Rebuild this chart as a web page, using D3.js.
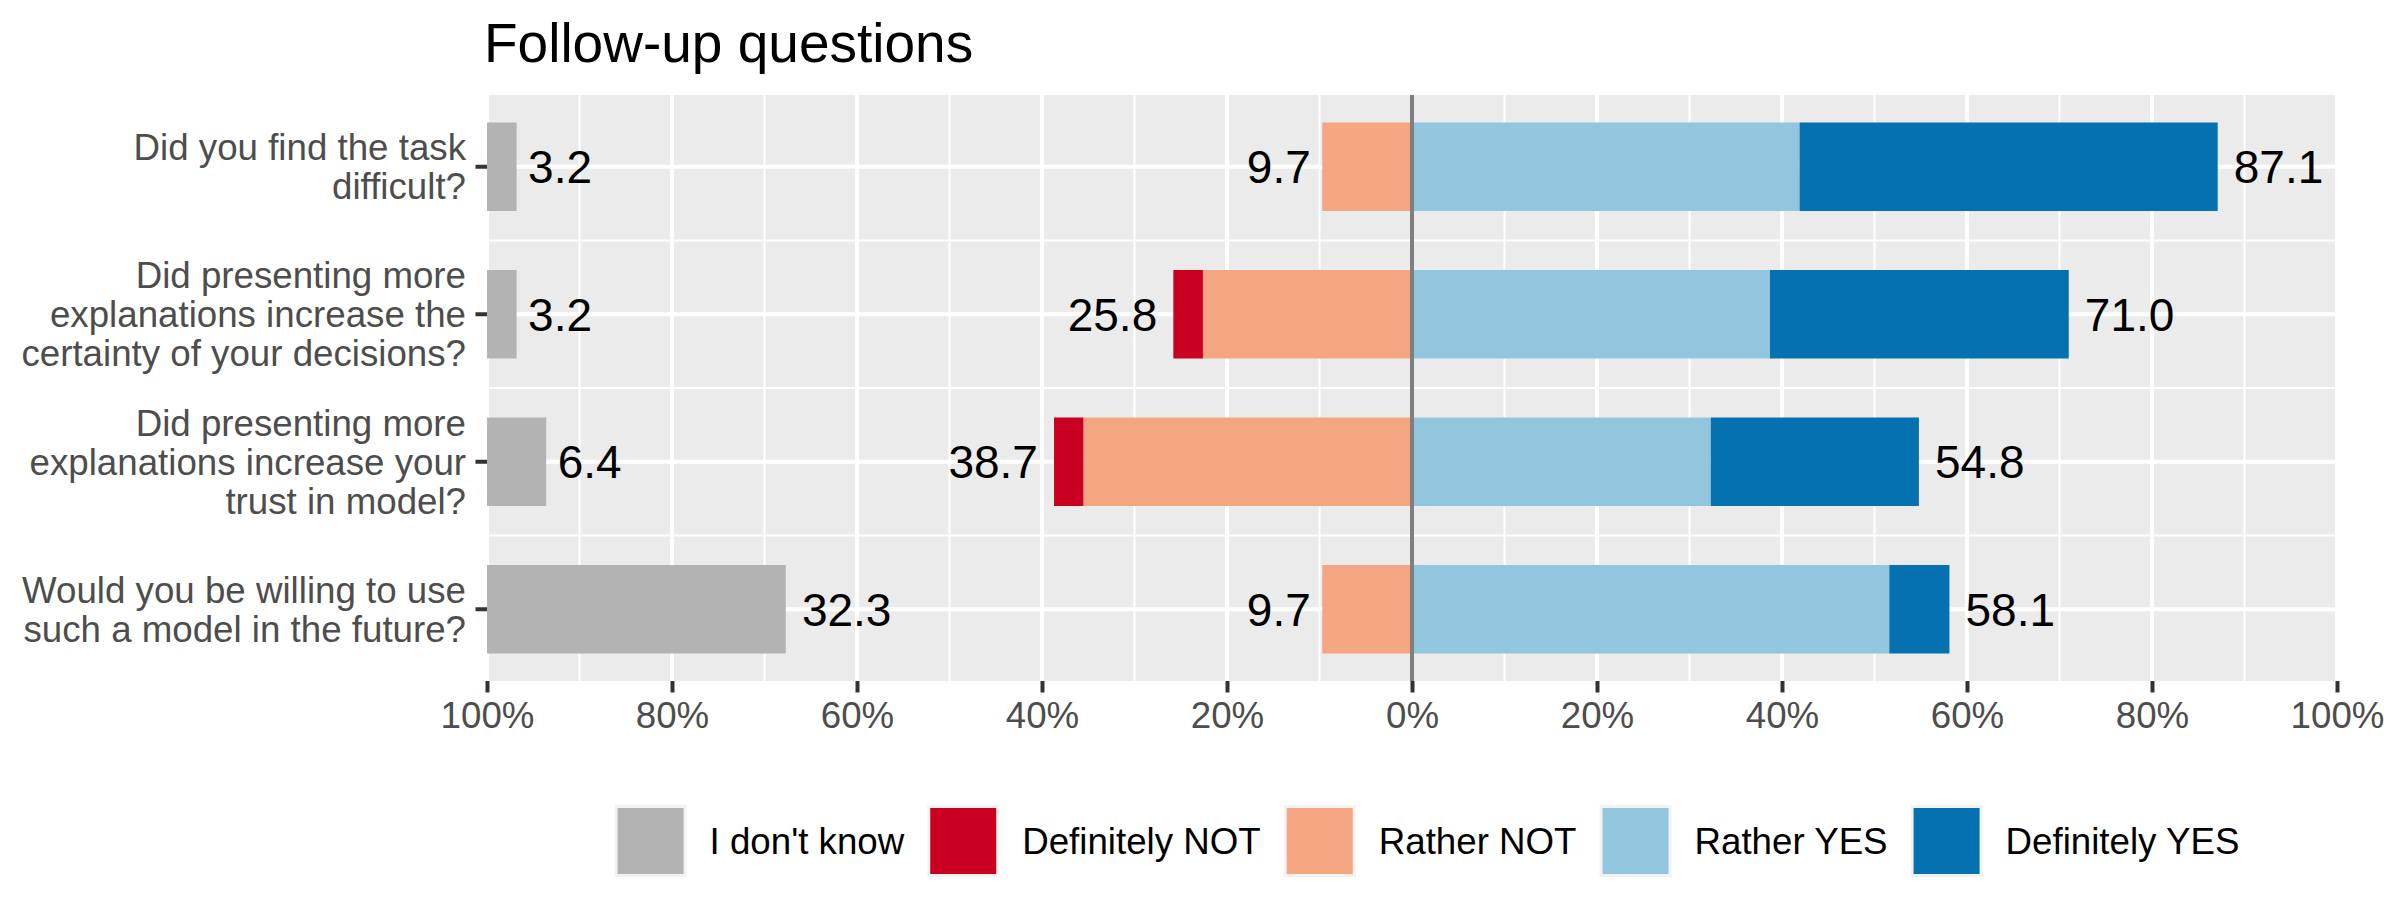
<!DOCTYPE html>
<html>
<head>
<meta charset="utf-8">
<script src="https://cdn.jsdelivr.net/npm/d3@7"></script>
<style>
  html, body { margin: 0; padding: 0; background: #ffffff; }
  svg { display: block; }
  text { font-family: "Liberation Sans", Arial, sans-serif; }
</style>
</head>
<body>
<svg id="chart" width="2400" height="900"></svg>
<script>
// ---- data ----
const title = "Follow-up questions";
const categories = [
  "Did you find the task\ndifficult?",
  "Did presenting more\nexplanations increase the\ncertainty of your decisions?",
  "Did presenting more\nexplanations increase your\ntrust in model?",
  "Would you be willing to use\nsuch a model in the future?"
];
const seriesNames = ["I don't know", "Definitely NOT", "Rather NOT", "Rather YES", "Definitely YES"];
const seriesColors = ["#B3B3B3", "#CA0020", "#F4A582", "#92C5DE", "#0571B0"];
const dontKnow      = [3.2, 3.2, 6.4, 32.3];
const definitelyNot = [0.0, 3.2, 3.2, 0.0];
const ratherNot     = [9.7, 22.6, 35.5, 9.7];
const ratherYes     = [41.9, 38.7, 32.3, 51.6];
const definitelyYes = [45.2, 32.3, 22.5, 6.5];
const xTicks = [-100, -80, -60, -40, -20, 0, 20, 40, 60, 80, 100];
const xMinorTicks = [-90, -70, -50, -30, -10, 10, 30, 50, 70, 90];

// ---- layout ----
const svg = d3.select("#chart");
const panel = { left: 487, right: 2337, top: 95, bottom: 681 };
const x = d3.scaleLinear().domain([-100, 100]).range([panel.left, panel.right]);
const y = d3.scaleBand().domain(categories).range([panel.top - 2, panel.bottom + 2])
  .paddingInner(0.4).paddingOuter(0.2);
const yc = c => y(c) + y.bandwidth() / 2;
const step = y.step();

const axisFont = 36.7, labelFont = 46, titleFont = 55;

// panel background
svg.append("rect").attr("x", panel.left).attr("y", panel.top)
  .attr("width", panel.right - panel.left).attr("height", panel.bottom - panel.top)
  .attr("fill", "#EBEBEB");

const grid = svg.append("g");
// minor vertical
grid.selectAll(".vmin").data(xMinorTicks).join("line")
  .attr("x1", d => x(d)).attr("x2", d => x(d))
  .attr("y1", panel.top).attr("y2", panel.bottom)
  .attr("stroke", "#fff").attr("stroke-width", 2);
// minor horizontal (between rows)
grid.selectAll(".hmin").data(categories.slice(1)).join("line")
  .attr("x1", panel.left).attr("x2", panel.right)
  .attr("y1", d => yc(d) - step / 2).attr("y2", d => yc(d) - step / 2)
  .attr("stroke", "#fff").attr("stroke-width", 2);
// major vertical
grid.selectAll(".vmaj").data(xTicks).join("line")
  .attr("x1", d => x(d)).attr("x2", d => x(d))
  .attr("y1", panel.top).attr("y2", panel.bottom)
  .attr("stroke", "#fff").attr("stroke-width", 4);
// major horizontal
grid.selectAll(".hmaj").data(categories).join("line")
  .attr("x1", panel.left).attr("x2", panel.right)
  .attr("y1", d => yc(d)).attr("y2", d => yc(d))
  .attr("stroke", "#fff").attr("stroke-width", 4);

// ---- bars ----
const rows = categories.map((c, i) => ({
  cat: c,
  segs: [
    { s: 0, x0: -100, x1: -100 + dontKnow[i] },
    { s: 1, x0: -(ratherNot[i] + definitelyNot[i]), x1: -ratherNot[i] },
    { s: 2, x0: -ratherNot[i], x1: 0 },
    { s: 3, x0: 0, x1: ratherYes[i] },
    { s: 4, x0: ratherYes[i], x1: ratherYes[i] + definitelyYes[i] }
  ],
  dk: dontKnow[i],
  no: definitelyNot[i] + ratherNot[i],
  yes: ratherYes[i] + definitelyYes[i]
}));

const bars = svg.append("g");
rows.forEach(r => {
  bars.selectAll(null).data(r.segs.filter(s => s.x1 - s.x0 > 0)).join("rect")
    .attr("x", s => x(s.x0))
    .attr("width", s => x(s.x1) - x(s.x0))
    .attr("y", y(r.cat))
    .attr("height", y.bandwidth())
    .attr("fill", s => seriesColors[s.s]);
});

// zero line
svg.append("line").attr("x1", x(0)).attr("x2", x(0))
  .attr("y1", panel.top).attr("y2", panel.bottom)
  .attr("stroke", "#7F7F7F").attr("stroke-width", 4);

// ---- value labels ----
const labels = svg.append("g").attr("font-size", labelFont).attr("fill", "#000");
rows.forEach(r => {
  const ty = yc(r.cat) + 0.36 * labelFont;
  const add = (val, xpos, side) => {
    const t = labels.append("text").text(val.toFixed(1)).attr("y", ty);
    const w = t.node().getComputedTextLength();
    const gap = 0.18 * w;
    if (side > 0) t.attr("x", xpos + gap).attr("text-anchor", "start");
    else t.attr("x", xpos - gap).attr("text-anchor", "end");
  };
  add(r.dk, x(-100 + r.dk), 1);
  add(r.no, x(-r.no), -1);
  add(r.yes, x(r.yes), 1);
});

// ---- x axis ----
const xAxis = d3.axisBottom(x).tickValues(xTicks).tickSize(11.5).tickPadding(9)
  .tickFormat(d => Math.abs(d) + "%");
const gx = svg.append("g").attr("transform", `translate(0,${panel.bottom})`).call(xAxis);
gx.select(".domain").remove();
gx.selectAll(".tick line").attr("stroke", "#333333").attr("stroke-width", 4);
gx.selectAll(".tick text").attr("font-size", axisFont).attr("fill", "#4D4D4D")
  .attr("font-family", "Liberation Sans, Arial, sans-serif").attr("dy", "0.71em");

// ---- y axis ----
const yAxis = d3.axisLeft(y).tickSize(11.5).tickFormat("");
const gy = svg.append("g").attr("transform", `translate(${panel.left},0)`).call(yAxis);
gy.select(".domain").remove();
gy.selectAll(".tick line").attr("stroke", "#333333").attr("stroke-width", 4);
const lineH = 39;
categories.forEach(c => {
  const lines = c.split("\n");
  const n = lines.length;
  const t = svg.append("text").attr("text-anchor", "end").attr("font-size", axisFont)
    .attr("fill", "#4D4D4D");
  lines.forEach((ln, k) => {
    t.append("tspan").attr("x", panel.left - 11.5 - 9.5)
      .attr("y", yc(c) + (k - (n - 1) / 2) * lineH + 0.36 * axisFont)
      .text(ln);
  });
});

// ---- title ----
svg.append("text").attr("x", panel.left - 3).attr("y", 62)
  .attr("font-size", titleFont).attr("fill", "#000").text(title);

// ---- legend ----
const keySize = 72, keyGap = 23, itemGap = 23, legCenterY = 841;
const leg = svg.append("g").attr("font-size", axisFont);
let widths = seriesNames.map(n => {
  const t = leg.append("text").text(n);
  const w = t.node().getComputedTextLength();
  t.remove();
  return w;
});
const total = widths.reduce((a, w) => a + keySize + keyGap + w, 0) + itemGap * (seriesNames.length - 1);
let cx = 1427 - total / 2;
seriesNames.forEach((n, i) => {
  leg.append("rect").attr("x", cx).attr("y", legCenterY - keySize / 2)
    .attr("width", keySize).attr("height", keySize).attr("fill", "#F2F2F2");
  leg.append("rect").attr("x", cx + 3).attr("y", legCenterY - keySize / 2 + 3)
    .attr("width", keySize - 6).attr("height", keySize - 6).attr("fill", seriesColors[i]);
  leg.append("text").attr("x", cx + keySize + keyGap).attr("y", legCenterY + 0.36 * axisFont)
    .attr("fill", "#000").text(n);
  cx += keySize + keyGap + widths[i] + itemGap;
});
</script>
</body>
</html>
